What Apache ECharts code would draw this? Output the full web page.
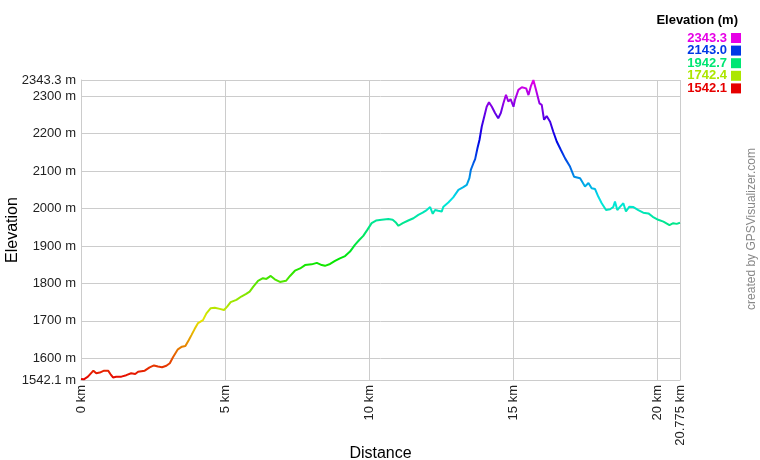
<!DOCTYPE html>
<html>
<head>
<meta charset="utf-8">
<script src="https://cdn.jsdelivr.net/npm/echarts@6/dist/echarts.min.js"></script>
<style>html,body{margin:0;padding:0;background:#fff}#c{width:760px;height:460px}</style>
</head>
<body>
<div id="c"></div>
<script>
// distance along route (km)
const distanceKm = [0,0.10,0.24,0.43,0.53,0.65,0.80,0.94,1.02,1.11,1.22,1.40,1.57,1.74,1.88,1.98,2.21,2.38,2.53,2.67,2.81,2.96,3.08,3.19,3.36,3.50,3.62,3.74,3.83,3.94,4.06,4.23,4.35,4.50,4.64,4.81,4.96,5.07,5.19,5.39,5.56,5.73,5.85,5.97,6.14,6.31,6.43,6.58,6.72,6.90,7.11,7.25,7.42,7.60,7.77,8.00,8.18,8.35,8.46,8.64,8.81,8.98,9.16,9.33,9.50,9.65,9.79,9.93,10.08,10.23,10.43,10.66,10.81,10.93,11.01,11.16,11.35,11.53,11.70,11.85,11.99,12.11,12.20,12.28,12.39,12.51,12.57,12.74,12.91,13.09,13.26,13.38,13.47,13.52,13.61,13.67,13.75,13.82,13.90,13.98,14.07,14.15,14.25,14.36,14.47,14.56,14.65,14.74,14.82,14.90,15.00,15.05,15.17,15.29,15.44,15.52,15.60,15.69,15.78,15.90,15.98,16.06,16.15,16.27,16.38,16.50,16.64,16.79,16.96,17.10,17.31,17.48,17.60,17.71,17.83,17.94,18.06,18.21,18.35,18.46,18.52,18.60,18.70,18.81,18.90,19.02,19.16,19.33,19.50,19.68,19.83,20.02,20.20,20.41,20.54,20.66,20.775];
// elevation (m)
const elevationM = [1545,1544,1551,1567,1560,1562,1567,1567,1558,1549,1551,1551,1555,1560,1558,1564,1567,1576,1581,1578,1576,1580,1587,1603,1624,1631,1633,1649,1662,1678,1694,1702,1720,1734,1735,1732,1729,1738,1750,1756,1765,1772,1778,1791,1807,1814,1812,1820,1811,1804,1807,1820,1834,1840,1849,1851,1855,1849,1847,1852,1860,1867,1873,1885,1903,1916,1927,1943,1961,1968,1970,1972,1970,1962,1954,1961,1968,1974,1983,1989,1996,2004,1986,1996,1994,1992,2005,2016,2030,2050,2057,2063,2081,2103,2121,2132,2161,2183,2219,2244,2272,2284,2272,2255,2241,2255,2281,2304,2286,2292,2272,2290,2317,2324,2321,2303,2326,2343.3,2317,2281,2277,2237,2247,2232,2205,2179,2157,2134,2112,2085,2081,2059,2068,2054,2052,2032,2014,1996,1998,2004,2019,1996,2005,2014,1992,2005,2004,1996,1989,1987,1978,1970,1965,1956,1961,1959,1962];
const xTicks = [0,5,10,15,20,20.775];
const yTicks = [1542.1,1600,1700,1800,1900,2000,2100,2200,2300,2343.3];
const elevMin = 1542.1, elevMax = 2343.3;
const legendValues = ['2343.3','2143.0','1942.7','1742.4','1542.1'];
const legendColors = ['#e600e6','#0039e6','#00e673','#ace600','#e60000'];
const hueStops = ['#e60000','#e67300','#e6e600','#73e600','#00e600','#00e673','#00e6e6','#0073e6','#0000e6','#7300e6','#e600e6'];

const FONT = 'Liberation Sans, Arial, sans-serif';
const chart = echarts.init(document.getElementById('c'), null, {renderer:'canvas'});
const data = distanceKm.map((d,i)=>[d, elevationM[i]]);

const graphics = [
  {type:'text', x:738, y:20, style:{text:'Elevation (m)', align:'right', verticalAlign:'middle', font:'bold 13px '+FONT, fill:'#000'}},
  {type:'text', x:752, y:229, rotation:Math.PI/2, style:{text:'created by GPSVisualizer.com', align:'center', verticalAlign:'middle', font:'12px '+FONT, fill:'#888'}}
];
legendValues.forEach((v,i)=>{
  const cy = 38 + i*12.6;
  graphics.push({type:'text', x:727, y:cy, style:{text:v, align:'right', verticalAlign:'middle', font:'bold 13px '+FONT, fill:legendColors[i]}});
  graphics.push({type:'rect', shape:{x:731, y:cy-5, width:10, height:10}, style:{fill:legendColors[i]}});
});

chart.setOption({
  animation:false,
  backgroundColor:'#fff',
  textStyle:{fontFamily:FONT},
  grid:{left:81, right:80, top:80, bottom:80, containLabel:false, outerBoundsMode:'none'},
  xAxis:{
    type:'value', min:0, max:20.775,
    name:'Distance', nameLocation:'middle', nameGap:66, nameMoveOverlap:false,
    nameTextStyle:{fontSize:16, color:'#000', fontFamily:FONT},
    axisLine:{show:true, lineStyle:{color:'#ccc', width:1}},
    axisTick:{show:false, customValues:xTicks},
    splitLine:{show:true, lineStyle:{color:'#ccc', width:1}},
    axisLabel:{customValues:xTicks, rotate:90, margin:5, fontSize:13, color:'#222', fontFamily:FONT,
      formatter:v=>v+' km', hideOverlap:false}
  },
  yAxis:{
    type:'value', min:elevMin, max:elevMax,
    name:'Elevation', nameLocation:'middle', nameGap:60, nameMoveOverlap:false,
    nameTextStyle:{fontSize:16, color:'#000', fontFamily:FONT},
    axisLine:{show:true, lineStyle:{color:'#ccc', width:1}},
    axisTick:{show:false, customValues:yTicks},
    splitLine:{show:true, lineStyle:{color:'#ccc', width:1}},
    axisLabel:{customValues:yTicks, margin:5, fontSize:13, color:'#222', fontFamily:FONT,
      formatter:v=>v+' m', hideOverlap:false}
  },
  visualMap:{show:false, type:'continuous', dimension:1, seriesIndex:0, min:elevMin, max:elevMax, inRange:{color:hueStops}},
  series:[{type:'line', data:data, showSymbol:false, symbol:'none', lineStyle:{width:2}, silent:true}],
  graphic:graphics
});
</script>
</body>
</html>
